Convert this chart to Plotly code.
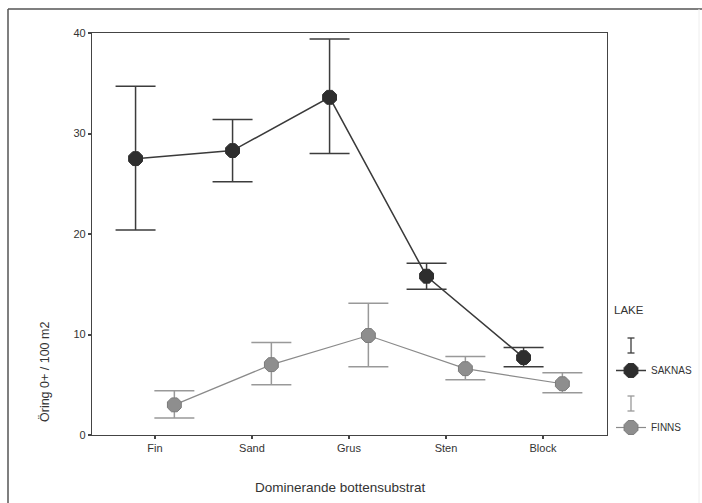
import plotly.graph_objects as go

# Substrate categories and group means with error-bar limits
categories = ["Fin", "Sand", "Grus", "Sten", "Block"]

saknas_mean = [27.5, 28.3, 33.6, 15.8, 7.7]
saknas_upper = [34.7, 31.4, 39.4, 17.1, 8.7]
saknas_lower = [20.4, 25.2, 28.0, 14.5, 6.8]

finns_mean = [3.0, 7.0, 9.9, 6.6, 5.1]
finns_upper = [4.4, 9.2, 13.1, 7.8, 6.2]
finns_lower = [1.7, 5.0, 6.8, 5.5, 4.2]

group_names = ["SAKNAS", "FINNS"]

W, H = 702, 503
L, R, T, B = 92, 95, 33, 68
PW, PH = W - L - R, H - T - B


def px(x):
    return (x - L) / PW


def py(y):
    return (H - B - y) / PH


dodge = 0.2
xs_s = [i - dodge for i in range(len(categories))]
xs_f = [i + dodge for i in range(len(categories))]

fig = go.Figure()

fig.add_trace(go.Scatter(
    x=xs_s, y=saknas_mean, name=group_names[0], mode="lines+markers",
    legendgroup="s",
    line=dict(color="#3a3a3a", width=1.5),
    marker=dict(symbol="octagon", size=15, color="#2e2e2e",
                line=dict(color="#2e2e2e", width=1)),
    error_y=dict(type="data", symmetric=False,
                 array=[u - m for u, m in zip(saknas_upper, saknas_mean)],
                 arrayminus=[m - l for m, l in zip(saknas_mean, saknas_lower)],
                 color="#3c3c3c", thickness=1.5, width=20),
))

fig.add_trace(go.Scatter(
    x=xs_f, y=finns_mean, name=group_names[1], mode="lines+markers",
    legendgroup="f",
    line=dict(color="#8a8a8a", width=1.2),
    marker=dict(symbol="octagon", size=15, color="#8e8e8e",
                line=dict(color="#7a7a7a", width=1)),
    error_y=dict(type="data", symmetric=False,
                 array=[u - m for u, m in zip(finns_upper, finns_mean)],
                 arrayminus=[m - l for m, l in zip(finns_mean, finns_lower)],
                 color="#999999", thickness=1.5, width=20),
))

font_family = "Liberation Sans, Arial, sans-serif"

shapes = []
# outer frame (left, top, faint right)
shapes.append(dict(type="line", xref="paper", yref="paper",
                   x0=px(8), x1=px(8), y0=py(9), y1=py(503),
                   line=dict(color="#555", width=1.5)))
shapes.append(dict(type="line", xref="paper", yref="paper",
                   x0=px(8), x1=px(702), y0=py(9), y1=py(9),
                   line=dict(color="#555", width=1.5)))
shapes.append(dict(type="line", xref="paper", yref="paper",
                   x0=px(699), x1=px(699), y0=py(9), y1=py(503),
                   line=dict(color="#eeeeee", width=1)))

# error-bar keys in the legend
for (y0, y1, col) in [(338, 353, "#3c3c3c"), (396, 411, "#999999")]:
    shapes.append(dict(type="line", xref="paper", yref="paper",
                       x0=px(631), x1=px(631), y0=py(y0), y1=py(y1),
                       line=dict(color=col, width=1.3)))
    for yy in (y0, y1):
        shapes.append(dict(type="line", xref="paper", yref="paper",
                           x0=px(627.5), x1=px(634.5), y0=py(yy), y1=py(yy),
                           line=dict(color=col, width=1.3)))

annotations = [
    dict(text="Dominerande bottensubstrat", xref="paper", yref="paper",
         x=px(340), y=py(487), xanchor="center", yanchor="middle",
         showarrow=False, font=dict(size=13.5, color="#333", family=font_family)),
    dict(text="Öring 0+ / 100 m2", xref="paper", yref="paper",
         x=px(45), y=py(372), xanchor="center", yanchor="middle",
         textangle=-90, showarrow=False,
         font=dict(size=12.5, color="#333", family=font_family)),
    dict(text="LAKE", xref="paper", yref="paper",
         x=px(612), y=py(310), xanchor="left", yanchor="middle",
         showarrow=False, font=dict(size=11.5, color="#333", family=font_family)),
]

fig.update_layout(
    width=W, height=H,
    margin=dict(l=L, r=R, t=T, b=B, autoexpand=False),
    paper_bgcolor="white", plot_bgcolor="white",
    font=dict(family=font_family, color="#333"),
    shapes=shapes, annotations=annotations,
    showlegend=True,
    legend=dict(x=px(611), y=py(356), xanchor="left", yanchor="top",
                bgcolor="rgba(0,0,0,0)", borderwidth=0,
                tracegroupgap=38, font=dict(size=10, color="#333"),
                itemclick=False),
    xaxis=dict(range=[-0.649, 4.66], tickmode="array",
               tickvals=list(range(len(categories))), ticktext=categories,
               showgrid=False, zeroline=False, showline=True, mirror=True,
               linecolor="#444", linewidth=1.3,
               ticks="outside", ticklen=3, tickcolor="#444", tickwidth=2,
               tickfont=dict(size=11, color="#333")),
    yaxis=dict(range=[0, 40], tickvals=[0, 10, 20, 30, 40],
               showgrid=False, zeroline=False, showline=True, mirror=True,
               linecolor="#444", linewidth=1.3,
               ticks="outside", ticklen=3, tickcolor="#444", tickwidth=2,
               tickfont=dict(size=11, color="#333")),
)

fig.write_html("out.html")
